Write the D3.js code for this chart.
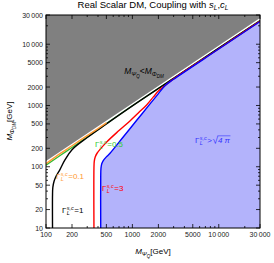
<!DOCTYPE html>
<html>
<head>
<meta charset="utf-8">
<script src="https://cdn.jsdelivr.net/npm/d3@7/dist/d3.min.js"></script>
<style>
  body { margin: 0; background: #fff; }
  text { font-family: "Liberation Sans", Arial, sans-serif; }
</style>
</head>
<body>
<div id="chart"></div>
<script>
// ---- data (M_PsiQ [GeV], M_PhiDM [GeV]) ------------------------------------
const xTicks = [100, 200, 500, 1000, 2000, 5000, 10000, 30000];
const yTicks = [10, 20, 50, 100, 200, 500, 1000, 2000, 5000, 10000, 30000];

// grey region edge (M_DM > M_Q)
const greyEdge = [[100, 124], [30000, 26700]];

// coupling contours
const line01 = [[100, 112], [150, 168], [200, 220], [300, 322], [400, 420], [500, 520]];
const line05 = [[100, 106], [150, 157], [200, 206], [300, 305], [500, 505], [1000, 990],
  [3000, 2780], [10000, 8650], [30000, 24300]];
const line1 = [[119, 10], [119, 35], [120, 46], [124, 58], [132, 72], [145, 90],
  [165, 128], [200, 190], [300, 300], [500, 500], [1000, 985], [3000, 2770],
  [10000, 8620], [30000, 24200]];
const line3 = [[359, 10], [359, 95], [362, 122], [372, 145], [390, 166], [500, 250],
  [700, 390], [937, 560], [1200, 780], [1462, 1020], [1750, 1380], [2000, 1720],
  [2300, 2030], [3000, 2720], [10000, 8450], [30000, 23800]];
const line4pi = [[430, 10], [430, 70], [433, 95], [442, 112], [460, 126], [500, 145],
  [551, 166], [800, 318], [1122, 573], [1600, 1062], [2000, 1560], [2400, 2120],
  [3000, 2680], [10000, 8350], [30000, 23500]];

// ---- layout ----------------------------------------------------------------
const width = 274, height = 263;
const x = d3.scaleLog().domain([100, 30000]).range([46, 260]);
const y = d3.scaleLog().domain([10, 30000]).range([228, 15]);

const svg = d3.select('#chart').append('svg')
  .attr('width', width)
  .attr('height', height);

svg.append('clipPath').attr('id', 'clip')
  .append('rect')
  .attr('x', x.range()[0]).attr('y', y.range()[1])
  .attr('width', x.range()[1] - x.range()[0])
  .attr('height', y.range()[0] - y.range()[1]);

const plot = svg.append('g').attr('clip-path', 'url(#clip)');
const lin = d3.line().x(d => x(d[0])).y(d => y(d[1]));
const smooth = d3.line().x(d => x(d[0])).y(d => y(d[1])).curve(d3.curveCatmullRom.alpha(0.5));

// regions
const xd = x.domain(), yd = y.domain();
plot.append('path')
  .attr('d', lin(greyEdge.concat([[xd[1], yd[1] * 2], [xd[0], yd[1] * 2]])) + 'Z')
  .attr('fill', '#808080');
plot.append('path')
  .attr('d', smooth(line4pi) + 'L' + x(xd[1] * 2) + ',' + y(line4pi[line4pi.length - 1][1])
    + 'L' + x(xd[1] * 2) + ',' + y(yd[0] / 2) + 'L' + x(line4pi[0][0]) + ',' + y(yd[0] / 2) + 'Z')
  .attr('fill', '#b3b3fb');

// contour lines
const lines = [
  { data: line05, color: '#33bb33' },
  { data: line1, color: '#000000' },
  { data: line01, color: '#ff9933' },
  { data: line3, color: '#ff0000' },
  { data: line4pi, color: '#0000ff' }
];
plot.selectAll('path.contour')
  .data(lines)
  .enter()
  .append('path')
  .attr('class', 'contour')
  .attr('d', d => smooth(d.data))
  .attr('fill', 'none')
  .attr('stroke', d => d.color)
  .attr('stroke-width', 1.4);

// ---- frame & ticks ---------------------------------------------------------
const fmt = v => v >= 10000 ? d3.format(',')(v).replace(',', '\u2009') : String(v);
const minor = (dom) => {
  const out = [];
  for (let p = Math.floor(Math.log10(dom[0])); p <= Math.ceil(Math.log10(dom[1])); p++) {
    for (let k = 1; k < 10; k++) {
      const v = k * Math.pow(10, p);
      if (v >= dom[0] && v <= dom[1]) out.push(v);
    }
  }
  return out;
};
const frame = svg.append('g');
const x0 = x.range()[0], x1 = x.range()[1], y0 = y.range()[0], y1 = y.range()[1];

minor(xd).forEach(v => {
  const L = xTicks.includes(v) ? 4 : 2;
  frame.append('line').attr('x1', x(v)).attr('x2', x(v)).attr('y1', y0).attr('y2', y0 - L);
  frame.append('line').attr('x1', x(v)).attr('x2', x(v)).attr('y1', y1).attr('y2', y1 + L);
});
minor(yd).forEach(v => {
  const L = yTicks.includes(v) ? 4 : 2;
  frame.append('line').attr('y1', y(v)).attr('y2', y(v)).attr('x1', x0).attr('x2', x0 + L);
  frame.append('line').attr('y1', y(v)).attr('y2', y(v)).attr('x1', x1).attr('x2', x1 - L);
});
frame.selectAll('line').attr('stroke', '#000').attr('stroke-width', 0.8);

frame.append('rect')
  .attr('x', x0).attr('y', y1)
  .attr('width', x1 - x0).attr('height', y0 - y1)
  .attr('fill', 'none').attr('stroke', '#000').attr('stroke-width', 1);

svg.append('g').selectAll('text')
  .data(xTicks).enter().append('text')
  .attr('x', d => x(d)).attr('y', y0 + 9)
  .attr('text-anchor', 'middle')
  .attr('font-size', '7px').attr('fill', '#222')
  .text(fmt);

svg.append('g').selectAll('text')
  .data(yTicks).enter().append('text')
  .attr('x', x0 - 3).attr('y', d => y(d) + 2.5)
  .attr('text-anchor', 'end')
  .attr('font-size', '7px').attr('fill', '#222')
  .text(fmt);

// ---- titles ----------------------------------------------------------------
const title = svg.append('text')
  .attr('x', 153).attr('y', 8)
  .attr('text-anchor', 'middle')
  .attr('font-size', '9.5px');
title.append('tspan').text('Real Scalar DM, Coupling with ');
title.append('tspan').attr('font-style', 'italic').text('s');
title.append('tspan').attr('font-style', 'italic').attr('font-size', '6.5px').attr('dy', 1.5).text('L');
title.append('tspan').attr('dy', -1.5).text(',');
title.append('tspan').attr('font-style', 'italic').text('c');
title.append('tspan').attr('font-style', 'italic').attr('font-size', '6.5px').attr('dy', 1.5).text('L');

const xl = svg.append('text')
  .attr('x', 153).attr('y', 254)
  .attr('text-anchor', 'middle')
  .attr('font-size', '8px');
xl.append('tspan').attr('font-style', 'italic').text('M');
xl.append('tspan').attr('font-style', 'italic').attr('font-size', '6px').attr('dy', 2).text('Ψ');
xl.append('tspan').attr('font-style', 'italic').attr('font-size', '4.5px').attr('dy', 1.5).text('Q');
xl.append('tspan').attr('dy', -3.5).text('[GeV]');

const yl = svg.append('text')
  .attr('transform', 'translate(12,121) rotate(-90)')
  .attr('text-anchor', 'middle')
  .attr('font-size', '8px');
yl.append('tspan').attr('font-style', 'italic').text('M');
yl.append('tspan').attr('font-style', 'italic').attr('font-size', '6px').attr('dy', 2).text('Φ');
yl.append('tspan').attr('font-style', 'italic').attr('font-size', '4.5px').attr('dy', 1.5).text('DM');
yl.append('tspan').attr('dy', -3.5).text('[GeV]');

const rg = svg.append('text')
  .attr('x', 144).attr('y', 74)
  .attr('text-anchor', 'middle')
  .attr('font-size', '8.5px');
rg.append('tspan').attr('font-style', 'italic').text('M');
rg.append('tspan').attr('font-style', 'italic').attr('font-size', '6px').attr('dy', 2).text('Ψ');
rg.append('tspan').attr('font-style', 'italic').attr('font-size', '4.5px').attr('dy', 1.5).text('Q');
rg.append('tspan').attr('dy', -3.5).text('<');
rg.append('tspan').attr('font-style', 'italic').text('M');
rg.append('tspan').attr('font-style', 'italic').attr('font-size', '6px').attr('dy', 2).text('Φ');
rg.append('tspan').attr('font-style', 'italic').attr('font-size', '4.5px').attr('dy', 1.5).text('DM');

// ---- contour labels ----------------------------------------------------------
function gammaLabel(px, py, color, tail, sqrtArg) {
  const g = svg.append('g').attr('fill', color).attr('font-size', '8px');
  const G = g.append('text').attr('x', px).attr('y', py).text('Γ');
  const w = G.node().getComputedTextLength();
  const sup = g.append('text').attr('x', px + w + 0.3).attr('y', py - 3.5)
    .attr('font-size', '5.5px').attr('font-style', 'italic').text('s,c');
  g.append('text').attr('x', px + w + 0.3).attr('y', py + 2)
    .attr('font-size', '5.5px').attr('font-style', 'italic').text('L');
  const sw = sup.node().getComputedTextLength();
  const t = g.append('text').attr('x', px + w + sw + 0.8).attr('y', py).text(tail);
  if (sqrtArg) {
    const tx = px + w + sw + 0.8 + t.node().getComputedTextLength() + 0.5;
    const r = g.append('text').attr('x', tx).attr('y', py + 1).attr('font-size', '10px').text('√');
    const rw = r.node().getComputedTextLength();
    const a = g.append('text').attr('x', tx + rw).attr('y', py).attr('font-style', 'italic').text(sqrtArg);
    const aw = a.node().getComputedTextLength();
    g.append('line').attr('x1', tx + rw - 0.5).attr('x2', tx + rw + aw + 0.5)
      .attr('y1', py - 7.2).attr('y2', py - 7.2)
      .attr('stroke', color).attr('stroke-width', 0.6);
  }
}
gammaLabel(56, 179, '#ff9933', '=0.1');
gammaLabel(95, 147, '#33cc33', '=0.5');
gammaLabel(62, 213, '#000000', '=1');
gammaLabel(102, 191, '#ff0000', '=3');
gammaLabel(195, 143, '#3333ff', '>', '4 π');
</script>
</body>
</html>
